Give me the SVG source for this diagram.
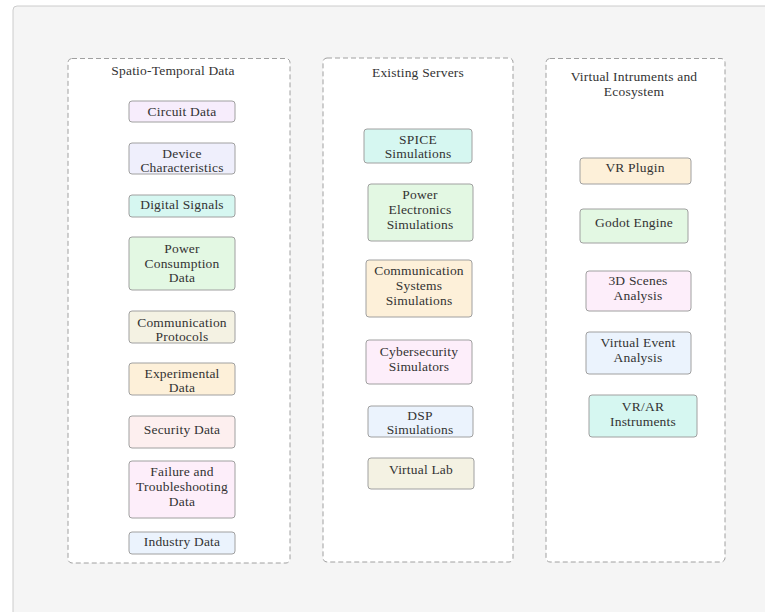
<svg xmlns="http://www.w3.org/2000/svg" width="765" height="612" viewBox="0 0 765 612">
<style>
text{font-family:"Liberation Serif","Times New Roman",serif;font-size:13.5px;letter-spacing:0.2px;fill:#333;text-anchor:middle}
.cont{fill:#fff;stroke:#a0a0a0;stroke-width:1;stroke-dasharray:5 3}
.n{stroke:#a0a0a0;stroke-width:1}
.purple{fill:#f7edfc}.lav{fill:#efeffc}.cyan{fill:#d6f7f1}.green{fill:#e3f8e3}.beige{fill:#f4f2e3}.orange{fill:#fdf0d9}.rose{fill:#fdefef}.pink{fill:#fdeefa}.blue{fill:#ebf3fd}
</style>
<rect x="0" y="0" width="765" height="612" fill="#fff"/>
<rect x="13" y="6" width="770" height="620" rx="4" fill="#f5f5f5" stroke="#cccccc"/>
<g id="container-spatio">
<rect class="cont" x="68" y="58.5" width="222" height="504.5" rx="4"/>
<text x="173" y="75">Spatio-Temporal Data</text>
</g>
<g id="container-servers">
<rect class="cont" x="323" y="58" width="190" height="504" rx="4"/>
<text x="418" y="77">Existing Servers</text>
</g>
<g id="container-virtual">
<rect class="cont" x="546" y="58.5" width="179" height="503.5" rx="4"/>
<text x="634" y="81">Virtual Intruments and</text>
<text x="634" y="96">Ecosystem</text>
</g>
<g id="connectors"></g>
<g id="circuit-data"><rect class="n purple" x="129" y="101" width="106" height="21" rx="3"/><text x="182" y="116">Circuit Data</text></g>
<g id="device-characteristics"><rect class="n lav" x="129" y="143" width="106" height="31" rx="3"/><text x="182" y="158">Device</text><text x="182" y="172">Characteristics</text></g>
<g id="digital-signals"><rect class="n cyan" x="129" y="195" width="106" height="22" rx="3"/><text x="182" y="209">Digital Signals</text></g>
<g id="power-consumption"><rect class="n green" x="129" y="237" width="106" height="53" rx="3"/><text x="182" y="253">Power</text><text x="182" y="268">Consumption</text><text x="182" y="282">Data</text></g>
<g id="communication-protocols"><rect class="n beige" x="129" y="311" width="106" height="32" rx="3"/><text x="182" y="327">Communication</text><text x="182" y="341">Protocols</text></g>
<g id="experimental-data"><rect class="n orange" x="129" y="363" width="106" height="32" rx="3"/><text x="182" y="378">Experimental</text><text x="182" y="392">Data</text></g>
<g id="security-data"><rect class="n rose" x="129" y="416" width="106" height="32" rx="3"/><text x="182" y="434">Security Data</text></g>
<g id="failure-data"><rect class="n pink" x="129" y="461" width="106" height="57" rx="3"/><text x="182" y="476">Failure and</text><text x="182" y="491">Troubleshooting</text><text x="182" y="506">Data</text></g>
<g id="industry-data"><rect class="n blue" x="129" y="532" width="106" height="22" rx="3"/><text x="182" y="546">Industry Data</text></g>
<g id="spice"><rect class="n cyan" x="364" y="129" width="108" height="34" rx="3"/><text x="418" y="144">SPICE</text><text x="418" y="158">Simulations</text></g>
<g id="power-electronics"><rect class="n green" x="368" y="184" width="105" height="57" rx="3"/><text x="420" y="199">Power</text><text x="420" y="214">Electronics</text><text x="420" y="229">Simulations</text></g>
<g id="communication-systems"><rect class="n orange" x="366" y="260" width="106" height="57" rx="3"/><text x="419" y="275">Communication</text><text x="419" y="290">Systems</text><text x="419" y="305">Simulations</text></g>
<g id="cybersecurity"><rect class="n pink" x="366" y="340" width="106" height="44" rx="3"/><text x="419" y="356">Cybersecurity</text><text x="419" y="371">Simulators</text></g>
<g id="dsp"><rect class="n blue" x="368" y="406" width="105" height="31" rx="3"/><text x="420" y="420">DSP</text><text x="420" y="434">Simulations</text></g>
<g id="virtual-lab"><rect class="n beige" x="368" y="458" width="106" height="31" rx="3"/><text x="421" y="474">Virtual Lab</text></g>
<g id="vr-plugin"><rect class="n orange" x="580" y="158" width="111" height="26" rx="3"/><text x="635" y="172">VR Plugin</text></g>
<g id="godot-engine"><rect class="n green" x="580" y="209" width="108" height="34" rx="3"/><text x="634" y="227">Godot Engine</text></g>
<g id="scenes-analysis"><rect class="n pink" x="586" y="271" width="105" height="40" rx="3"/><text x="638" y="285">3D Scenes</text><text x="638" y="300">Analysis</text></g>
<g id="virtual-event"><rect class="n blue" x="586" y="332" width="105" height="42" rx="3"/><text x="638" y="347">Virtual Event</text><text x="638" y="362">Analysis</text></g>
<g id="vrar-instruments"><rect class="n cyan" x="589" y="395" width="108" height="42" rx="3"/><text x="643" y="411">VR/AR</text><text x="643" y="426">Instruments</text></g>
</svg>
